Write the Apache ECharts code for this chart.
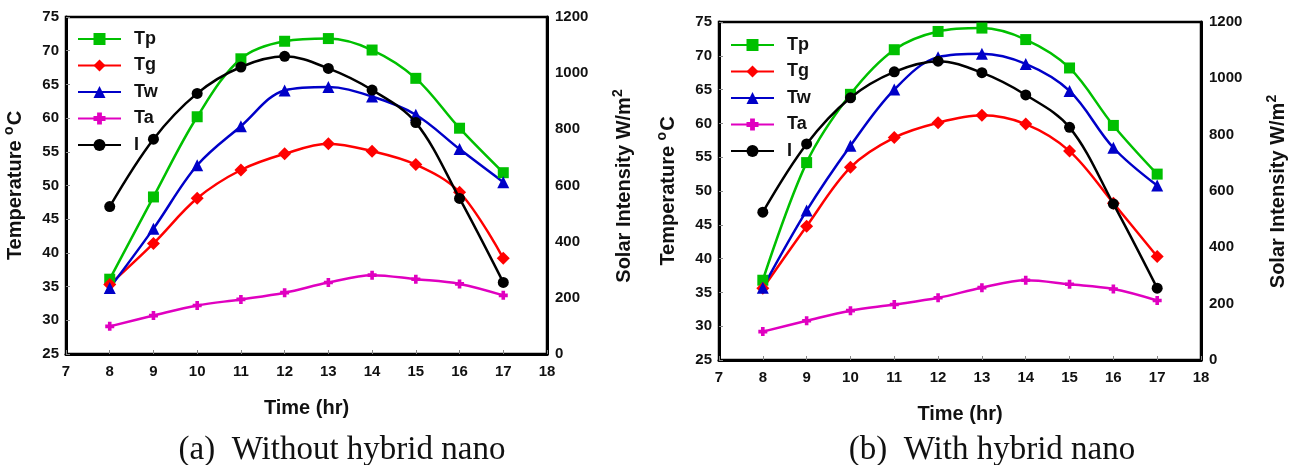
<!DOCTYPE html>
<html>
<head>
<meta charset="utf-8">
<title>Temperature and solar intensity</title>
<script src="https://cdn.jsdelivr.net/npm/echarts@6/dist/echarts.min.js"></script>
<style>
	html, body { margin: 0; padding: 0; background: #fff; }
	#chart { width: 1293px; height: 465px; }
</style>
</head>
<body>
<div id="chart"></div>
<script>
var hours = [8, 9, 10, 11, 12, 13, 14, 15, 16, 17];
var names = ['Tp', 'Tg', 'Tw', 'Ta', 'I'];

// (a) without hybrid nano
var tpA = [36.1, 48.3, 60.2, 68.8, 71.4, 71.8, 70.1, 65.9, 58.5, 51.9];
var tgA = [35.3, 41.4, 48.1, 52.3, 54.7, 56.2, 55.1, 53.1, 49.0, 39.2];
var twA = [34.8, 43.6, 53.0, 58.8, 64.1, 64.6, 63.2, 60.5, 55.4, 50.5];
var taA = [29.1, 30.7, 32.2, 33.1, 34.1, 35.6, 36.7, 36.1, 35.4, 33.7];
var iA = [525, 765, 928, 1022, 1060, 1017, 940, 824, 554, 255];

// (b) with hybrid nano
var tpB = [36.8, 54.2, 64.3, 70.9, 73.6, 74.1, 72.4, 68.2, 59.7, 52.5];
var tgB = [35.6, 44.8, 53.5, 57.9, 60.1, 61.2, 59.9, 55.9, 48.2, 40.3];
var twB = [35.7, 47.1, 56.7, 65.0, 69.8, 70.3, 68.8, 64.8, 56.4, 50.8];
var taB = [29.2, 30.8, 32.3, 33.2, 34.2, 35.7, 36.8, 36.2, 35.5, 33.8];
var iB = [525, 767, 931, 1023, 1061, 1020, 941, 826, 554, 255];

var subtitles = ['(a)  Without hybrid nano', '(b)  With hybrid nano'];

var colors = ['#00c000', '#ff0000', '#0000c8', '#e000c0', '#000000'];
var symbols = ['rect', 'diamond', 'triangle',
	'path://M3,0H7V3H10V7H7V10H3V7H0V3H3Z', 'circle'];
var symbolSizes = [11, 13, 12, 9, 11];

var chart = echarts.init(document.getElementById('chart'));

function pairs(vals) {
	return hours.map(function (h, i) { return [h, vals[i]]; });
}

var tickFont = { fontFamily: 'Liberation Sans', fontWeight: 'bold', fontSize: 15, color: '#111' };
var nameFont = { fontFamily: 'Liberation Sans', fontWeight: 'bold', fontSize: 20, color: '#111' };
var supStyle = { fontFamily: 'Liberation Sans', fontWeight: 'bold', fontSize: 14, color: '#111', padding: [0, 1, 12, 0] };
var serifFont = { fontFamily: 'Liberation Serif', fontWeight: 'normal', fontSize: 33, color: '#111' };

var grids = [
	{ left: 66, top: 17, width: 481, height: 337 },
	{ left: 719, top: 22, width: 482, height: 338 }
];

function xAxisFor(idx) {
	return {
		type: 'value', gridIndex: idx, min: 7, max: 18, interval: 1,
		name: 'Time (hr)', nameLocation: 'middle', nameGap: 44,
		nameTextStyle: { fontFamily: 'Liberation Sans', fontWeight: 'bold', fontSize: 20, color: '#111' },
		axisLine: { lineStyle: { color: '#000', width: 3 } },
		axisTick: { inside: true, length: 4, lineStyle: { color: '#888' } },
		axisLabel: Object.assign({ margin: 10 }, tickFont),
		splitLine: { show: false }
	};
}

function tempAxis(idx) {
	return {
		type: 'value', gridIndex: idx, position: 'left', min: 25, max: 75, interval: 5,
		name: '{t|Temperature }{s|o}{t|C}', nameLocation: 'middle', nameGap: 38, nameRotate: 90,
		nameTextStyle: { rich: { t: nameFont, s: supStyle } },
		axisLine: { show: true, lineStyle: { color: '#000', width: 3 } },
		axisTick: { show: true, inside: true, length: 4, lineStyle: { color: '#888' } },
		axisLabel: Object.assign({ margin: 7 }, tickFont),
		splitLine: { show: false }
	};
}

function solarAxis(idx) {
	return {
		type: 'value', gridIndex: idx, position: 'right', min: 0, max: 1200, interval: 200,
		name: '{t|Solar Intensity W/m}{s|2}', nameLocation: 'middle', nameGap: 64, nameRotate: 90,
		nameTextStyle: { rich: { t: nameFont, s: supStyle } },
		axisLine: { show: true, lineStyle: { color: '#000', width: 3 } },
		axisTick: { show: false },
		axisLabel: Object.assign({ margin: 8, formatter: function (v) { return String(v); } }, tickFont),
		splitLine: { show: false }
	};
}

function seriesFor(idx, sets) {
	return sets.map(function (vals, k) {
		return {
			name: names[k], type: 'line', smooth: 0.35,
			xAxisIndex: idx, yAxisIndex: k === 4 ? idx * 2 + 1 : idx * 2,
			data: pairs(vals),
			symbol: symbols[k], symbolSize: symbolSizes[k],
			lineStyle: { color: colors[k], width: 2.5 },
			itemStyle: { color: colors[k] },
			z: k === 4 ? 3 : 2
		};
	});
}

function legendFor(left, top) {
	return {
		orient: 'vertical', left: left, top: top, data: names,
		itemWidth: 43, itemHeight: 15, itemGap: 8.5,
		textStyle: { fontFamily: 'Liberation Sans', fontWeight: 'bold', fontSize: 18, color: '#111', padding: [0, 0, 0, 8] }
	};
}

var option = {
	animation: false,
	grid: grids.map(function (g) {
		return Object.assign({ show: true, borderColor: '#000', borderWidth: 2.5, backgroundColor: 'transparent' }, g);
	}),
	title: [
		{ text: subtitles[0], left: 337, top: 429, textAlign: 'center', textStyle: serifFont },
		{ text: subtitles[1], left: 987, top: 429, textAlign: 'center', textStyle: serifFont }
	],
	legend: [legendFor(72, 25), legendFor(725, 31)],
	xAxis: [xAxisFor(0), xAxisFor(1)],
	yAxis: [tempAxis(0), solarAxis(0), tempAxis(1), solarAxis(1)],
	series: seriesFor(0, [tpA, tgA, twA, taA, iA]).concat(seriesFor(1, [tpB, tgB, twB, taB, iB]))
};

chart.setOption(option);
</script>
</body>
</html>
